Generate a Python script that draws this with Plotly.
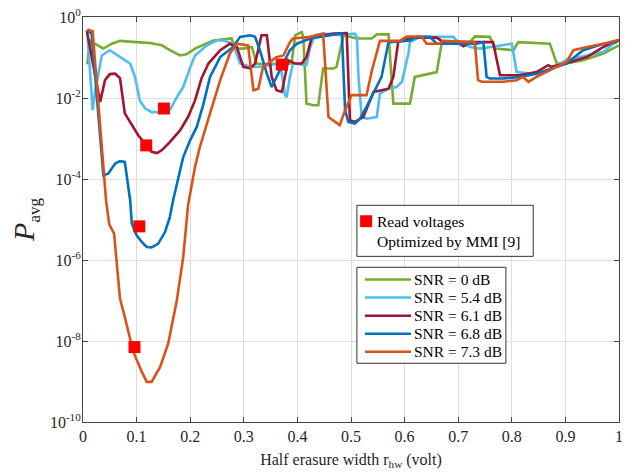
import numpy as np
import plotly.graph_objects as go

# Half erasure width r_hw (volt) and log10 of P_avg for each SNR
x_0db = [0.008, 0.013, 0.022, 0.038, 0.054, 0.069, 0.100, 0.125, 0.147, 0.162, 0.181, 0.193, 0.209, 0.228,
         0.243, 0.277, 0.284, 0.299, 0.315, 0.324, 0.343, 0.361, 0.389, 0.396, 0.408, 0.411, 0.417, 0.430,
         0.439, 0.448, 0.467, 0.473, 0.486, 0.511, 0.539, 0.548, 0.570, 0.579, 0.610, 0.619, 0.660, 0.669,
         0.679, 0.722, 0.731, 0.759, 0.769, 0.803, 0.812, 0.871, 0.884, 0.902, 0.933, 0.971, 1.0]
logp_0db = [-1.17, -0.58, -0.66, -0.78, -0.66, -0.59, -0.62, -0.64, -0.70, -0.82, -0.95, -0.92, -0.78, -0.66,
            -0.58, -0.53, -0.78, -0.78, -0.74, -1.15, -1.17, -1.15, -1.15, -0.45, -0.37, -0.49, -2.14, -2.18,
            -2.18, -1.27, -1.27, -1.23, -0.45, -0.53, -0.53, -0.43, -0.43, -2.14, -2.14, -1.48, -1.36, -0.66,
            -0.62, -0.62, -0.48, -0.49, -0.78, -0.82, -0.62, -0.66, -1.15, -1.15, -1.07, -0.90, -0.70]

x_54db = [0.008, 0.018, 0.022, 0.029, 0.035, 0.050, 0.066, 0.088, 0.097, 0.106, 0.116, 0.128, 0.140, 0.162,
          0.175, 0.187, 0.200, 0.209, 0.218, 0.231, 0.249, 0.262, 0.280, 0.293, 0.312, 0.330, 0.368, 0.377,
          0.380, 0.386, 0.392, 0.417, 0.424, 0.433, 0.448, 0.479, 0.507, 0.511, 0.514, 0.520, 0.529, 0.548,
          0.554, 0.570, 0.585, 0.595, 0.607, 0.610, 0.629, 0.691, 0.697, 0.722, 0.741, 0.800, 0.809, 0.840,
          0.865, 0.902, 0.927, 0.971, 0.989, 1.0]
logp_54db = [-0.35, -2.30, -1.89, -1.40, -0.95, -0.82, -0.95, -1.15, -1.48, -2.06, -2.26, -2.35, -2.35, -2.30,
             -1.98, -1.73, -1.25, -0.95, -0.85, -0.70, -0.58, -0.58, -0.66, -1.15, -1.23, -1.23, -1.15, -1.93,
             -1.98, -1.48, -1.15, -1.19, -0.74, -0.45, -0.41, -0.45, -0.41, -0.49, -1.48, -2.47, -2.51, -2.47,
             -1.89, -1.77, -1.73, -1.60, -0.90, -0.62, -0.49, -0.49, -0.58, -0.74, -0.78, -0.66, -1.36, -1.40,
             -1.32, -1.07, -0.99, -0.86, -0.66, -0.58]

x_61db = [0.007, 0.032, 0.041, 0.050, 0.060, 0.069, 0.078, 0.088, 0.103, 0.116, 0.128, 0.138, 0.147, 0.162,
          0.181, 0.196, 0.209, 0.221, 0.234, 0.256, 0.274, 0.287, 0.299, 0.312, 0.321, 0.333, 0.343, 0.352,
          0.361, 0.371, 0.383, 0.396, 0.408, 0.417, 0.427, 0.467, 0.489, 0.492, 0.498, 0.507, 0.523, 0.542,
          0.570, 0.579, 0.588, 0.616, 0.660, 0.672, 0.697, 0.710, 0.722, 0.765, 0.778, 0.815, 0.846, 0.868,
          0.874, 0.902, 0.940, 0.971, 0.989, 1.0]
logp_61db = [-0.33, -2.10, -1.56, -1.41, -1.40, -1.51, -2.38, -2.59, -2.92, -3.13, -3.33, -3.36, -3.29, -3.09,
             -2.80, -2.47, -2.06, -1.52, -1.15, -0.82, -0.66, -0.74, -1.23, -1.27, -1.15, -0.45, -0.45, -1.48,
             -1.81, -1.85, -1.07, -1.15, -1.15, -0.99, -0.49, -0.41, -0.41, -0.40, -2.55, -2.59, -2.47, -1.85,
             -1.77, -1.48, -0.62, -0.51, -0.51, -0.62, -0.62, -0.72, -0.62, -0.62, -1.44, -1.44, -1.36, -1.19,
             -1.23, -1.14, -0.99, -0.74, -0.62, -0.58]

x_68db = [0.008, 0.016, 0.038, 0.047, 0.060, 0.069, 0.078, 0.088, 0.091, 0.100, 0.110, 0.119, 0.128, 0.140,
          0.153, 0.162, 0.168, 0.175, 0.187, 0.200, 0.212, 0.224, 0.237, 0.256, 0.280, 0.293, 0.312, 0.321,
          0.330, 0.343, 0.352, 0.364, 0.377, 0.386, 0.399, 0.424, 0.479, 0.483, 0.489, 0.495, 0.507, 0.517,
          0.529, 0.542, 0.557, 0.570, 0.573, 0.610, 0.623, 0.647, 0.660, 0.735, 0.747, 0.753, 0.759, 0.784,
          0.815, 0.846, 0.902, 0.933, 0.952, 0.971, 0.996]
logp_68db = [-0.33, -0.41, -3.91, -3.87, -3.62, -3.56, -3.58, -4.53, -5.10, -5.39, -5.56, -5.68, -5.69, -5.60,
             -5.31, -4.94, -4.53, -4.11, -3.46, -3.04, -2.72, -2.18, -1.48, -0.99, -0.74, -0.49, -0.45, -0.49,
             -0.82, -1.40, -1.73, -1.40, -1.07, -0.82, -0.66, -0.53, -0.41, -0.41, -2.30, -2.59, -2.63, -2.51,
             -2.22, -1.89, -1.48, -0.62, -0.62, -0.58, -0.49, -0.49, -0.66, -0.66, -0.62, -1.48, -1.52, -1.52,
             -1.48, -1.40, -1.15, -0.82, -0.74, -0.66, -0.62]

x_73db = [0.008, 0.018, 0.043, 0.049, 0.058, 0.069, 0.078, 0.094, 0.110, 0.119, 0.128, 0.144, 0.159, 0.175,
          0.187, 0.196, 0.209, 0.218, 0.237, 0.256, 0.274, 0.287, 0.308, 0.318, 0.327, 0.336, 0.361, 0.374,
          0.386, 0.392, 0.424, 0.442, 0.448, 0.458, 0.479, 0.489, 0.501, 0.529, 0.539, 0.554, 0.591, 0.604,
          0.632, 0.641, 0.666, 0.672, 0.710, 0.731, 0.737, 0.744, 0.784, 0.809, 0.821, 0.831, 0.846, 0.902,
          0.915, 0.940, 0.971, 1.0]
logp_73db = [-0.31, -0.35, -4.53, -5.12, -5.35, -6.95, -7.41, -8.27, -8.77, -9.01, -9.01, -8.64, -8.06, -7.00,
             -5.93, -4.65, -3.70, -3.21, -2.38, -1.56, -0.90, -0.66, -0.70, -1.81, -1.77, -1.23, -0.99, -0.95,
             -0.62, -0.53, -0.49, -0.43, -0.41, -2.47, -2.67, -2.30, -1.93, -1.93, -1.32, -0.59, -0.59, -0.48,
             -0.48, -0.66, -0.66, -0.59, -0.62, -0.62, -1.56, -1.60, -1.60, -1.56, -1.48, -1.60, -1.48, -1.11,
             -0.82, -0.74, -0.66, -0.56]

# Read voltages optimized by MMI, one per SNR (0, 5.4, 6.1, 6.8, 7.3 dB)
mmi_x = [0.371, 0.151, 0.118, 0.105, 0.096]
mmi_logp = [-1.175, -2.26, -3.17, -5.17, -8.15]

series = [
    ("SNR = 0 dB", x_0db, logp_0db, "#77AC30"),
    ("SNR = 5.4 dB", x_54db, logp_54db, "#4DBEEE"),
    ("SNR = 6.1 dB", x_61db, logp_61db, "#A2142F"),
    ("SNR = 6.8 dB", x_68db, logp_68db, "#0072BD"),
    ("SNR = 7.3 dB", x_73db, logp_73db, "#D95319"),
]
marker_label = ["Read voltages", "Optimized by MMI [9]"]

serif = "Liberation Serif"
line_w = 2.6
legend_font = dict(family=serif, size=15.5, color="black")

fig = go.Figure()
for name, xs, lp, color in series:
    fig.add_trace(go.Scatter(
        x=xs, y=10 ** np.array(lp), mode="lines", name=name,
        line=dict(color=color, width=line_w), showlegend=False,
    ))

fig.add_trace(go.Scatter(
    x=mmi_x, y=10 ** np.array(mmi_logp), mode="markers",
    name=" ".join(marker_label),
    marker=dict(symbol="square", size=12, color="#FF0000"),
    showlegend=False,
))

shapes = []
annotations = []

# Boxed key for the MMI read voltages
shapes.append(dict(type="rect", xref="paper", yref="paper", x0=0.511, x1=0.840, y0=0.409, y1=0.535,
                   line=dict(color="#333", width=1), fillcolor="white", layer="above"))
shapes.append(dict(type="rect", xref="paper", yref="paper", x0=0.517, x1=0.5395, y0=0.481, y1=0.5105,
                   line=dict(width=0), fillcolor="#FF0000", layer="above"))
for text, yy in zip(marker_label, [0.4956, 0.446]):
    annotations.append(dict(text=text, xref="paper", yref="paper", x=0.545, y=yy,
                            xanchor="left", yanchor="middle", showarrow=False, font=legend_font))

# Boxed key for the SNR curves
shapes.append(dict(type="rect", xref="paper", yref="paper", x0=0.511, x1=0.789, y0=0.145, y1=0.382,
                   line=dict(color="#333", width=1), fillcolor="white", layer="above"))
row_y = [0.352, 0.3075, 0.2625, 0.218, 0.1735]
for (name, _, _, color), yy in zip(series, row_y):
    shapes.append(dict(type="line", xref="paper", yref="paper", x0=0.526, x1=0.612, y0=yy, y1=yy,
                       line=dict(color=color, width=line_w), layer="above"))
    annotations.append(dict(text=name, xref="paper", yref="paper", x=0.614, y=yy,
                            xanchor="left", yanchor="middle", showarrow=False, font=legend_font))

ytick_vals = [10.0 ** e for e in range(-10, 1, 2)]
ytick_text = ["10<sup>%d</sup>" % e for e in range(-10, 1, 2)]

fig.update_layout(
    width=634, height=474,
    margin=dict(l=83, r=15, t=17, b=52),
    paper_bgcolor="white", plot_bgcolor="white",
    font=dict(family=serif, size=16, color="#262626"),
    showlegend=False,
    shapes=shapes,
    annotations=annotations,
    xaxis=dict(
        range=[0, 1], tickvals=[i / 10 for i in range(11)],
        ticktext=["0", "0.1", "0.2", "0.3", "0.4", "0.5", "0.6", "0.7", "0.8", "0.9", "1"],
        showgrid=True, gridcolor="#DEDEDE", gridwidth=1,
        showline=True, linecolor="#444", linewidth=1, mirror="ticks",
        ticks="inside", ticklen=5, tickcolor="#444",
        zeroline=False, automargin=False,
        title=dict(text="Half erasure width r<sub>hw</sub> (volt)", font=dict(size=16), standoff=9),
    ),
    yaxis=dict(
        type="log", range=[-10, 0], tickvals=ytick_vals, ticktext=ytick_text,
        showgrid=True, gridcolor="#DEDEDE", gridwidth=1,
        showline=True, linecolor="#444", linewidth=1, mirror="ticks",
        ticks="inside", ticklen=5, tickcolor="#444",
        ticklabelstandoff=-2,
        zeroline=False, automargin=False,
        title=dict(text="<i>P</i><sub><span style=\"font-size:17px\">avg</span></sub>",
                   font=dict(size=30), standoff=6),
    ),
)

fig.write_html("out.html")
